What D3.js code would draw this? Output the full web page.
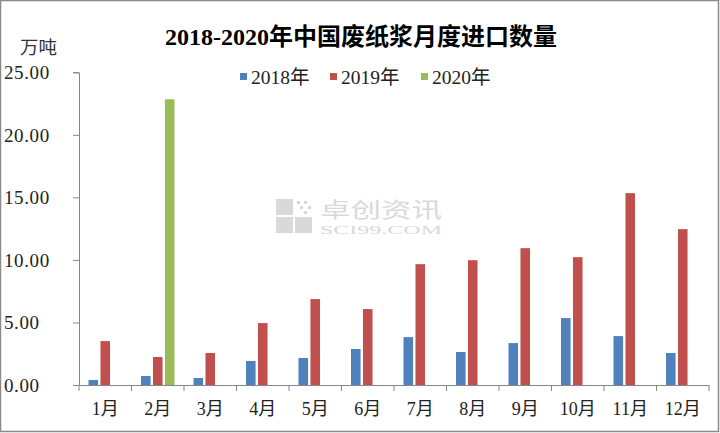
<!DOCTYPE html>
<html><head><meta charset="utf-8">
<script src="https://cdn.jsdelivr.net/npm/d3@7"></script>
<style>html,body{margin:0;padding:0;background:#fff;}svg{display:block;}</style>
</head><body>
<svg id="chart" width="720" height="433"></svg>
<script>
const months = ["1月","2月","3月","4月","5月","6月","7月","8月","9月","10月","11月","12月"];
const seriesNames = ["2018年","2019年","2020年"];
const seriesColors = ["#4F81BD","#C0504D","#9BBB59"];
const values2018 = [0.40,0.72,0.56,1.92,2.16,2.88,3.83,2.64,3.35,5.35,3.91,2.56];
const values2019 = [3.51,2.24,2.56,4.95,6.87,6.07,9.66,9.98,10.94,10.22,15.34,12.46];
const values2020 = [null,22.84,null,null,null,null,null,null,null,null,null,null];
const yTicks = [0,5,10,15,20,25];
const titleText = "2018-2020年中国废纸浆月度进口数量";
const unitText = "万吨";

const allSeries = [values2018, values2019, values2020];
const svg = d3.select("#chart");
const FONT = "'Liberation Serif','Noto Sans CJK SC',serif";

// border
svg.append("rect").attr("x",0.5).attr("y",0.5).attr("width",718).attr("height",431)
  .attr("fill","#fff").attr("stroke","#8a8a8a").attr("stroke-width",1.5);

// watermark
const wm = svg.append("g").attr("fill","#d9d9d9");
wm.append("rect").attr("x",276).attr("y",199).attr("width",17).attr("height",16);
wm.append("rect").attr("x",276).attr("y",217).attr("width",17).attr("height",16);
wm.append("rect").attr("x",295).attr("y",217).attr("width",17).attr("height",16);
[[297,201],[304,201],[300,206],[308,206],[304,211]].forEach(p=>wm.append("rect").attr("x",p[0]).attr("y",p[1]).attr("width",3).attr("height",3));
wm.append("text").attr("x",320).attr("y",217).attr("font-family","'Noto Sans CJK SC',sans-serif")
  .attr("font-size",21).attr("textLength",122).attr("lengthAdjust","spacingAndGlyphs").text("卓创资讯");
wm.append("text").attr("x",320).attr("y",234).attr("font-family","'Liberation Serif',serif")
  .attr("font-size",12).attr("textLength",122).attr("lengthAdjust","spacingAndGlyphs").text("SCI99.COM");

const x0 = d3.scaleBand().domain(months).range([79, 709]).paddingInner(0).paddingOuter(0);
const groupW = 33.5;
const x1 = d3.scaleBand().domain(seriesNames)
  .range([(x0.bandwidth()-groupW)/2, (x0.bandwidth()+groupW)/2]).paddingInner(0.2).paddingOuter(0);
const y = d3.scaleLinear().domain([0,25]).range([385, 72.3]);

// bars
seriesNames.forEach((s,si)=>{
  svg.append("g").selectAll("rect")
    .data(months.map((m,i)=>({m, v: allSeries[si][i]})).filter(d=>d.v!=null))
    .join("rect")
    .attr("x", d=>x0(d.m)+x1(s))
    .attr("y", d=>y(d.v))
    .attr("width", x1.bandwidth())
    .attr("height", d=>y(0)-y(d.v))
    .attr("fill", seriesColors[si]);
});

// y axis
const yAxis = svg.append("g").attr("transform","translate(79,0)")
  .call(d3.axisLeft(y).tickValues(yTicks).tickFormat(d3.format(".2f")).tickSize(6).tickPadding(24));
yAxis.select(".domain").attr("stroke","#868686");
yAxis.selectAll(".tick line").attr("stroke","#868686");
yAxis.selectAll("text").attr("font-family",FONT).attr("font-size",19).attr("fill","#222")
  .attr("text-anchor","start").attr("x",-75).attr("dy","0.33em").attr("letter-spacing","0.6px");

// x axis
const xAxis = svg.append("g").attr("transform","translate(0,385)")
  .call(d3.axisBottom(x0).tickSize(0).tickPadding(17));
xAxis.select(".domain").attr("stroke","#868686");
xAxis.selectAll("text").attr("font-family",FONT).attr("font-size",18).attr("fill","#222");
svg.append("g").selectAll("line").data(d3.range(13)).join("line")
  .attr("x1", i=>79+i*x0.step()).attr("x2", i=>79+i*x0.step())
  .attr("y1",385).attr("y2",391).attr("stroke","#868686");

// title
svg.append("text").attr("x",361).attr("y",45).attr("text-anchor","middle")
  .attr("font-family",FONT).attr("font-size",24).attr("font-weight","bold").attr("fill","#000")
  .text(titleText);
// unit
svg.append("text").attr("x",20).attr("y",54).attr("font-family",FONT)
  .attr("font-size",18.5).attr("fill","#333").text(unitText);

// legend
const legendX = [240, 330, 421];
const lg = svg.append("g");
seriesNames.forEach((s,i)=>{
  lg.append("rect").attr("x",legendX[i]).attr("y",73).attr("width",7).attr("height",7).attr("fill",seriesColors[i]);
  lg.append("text").attr("x",legendX[i]+11).attr("y",84).attr("font-family",FONT)
    .attr("font-size",19.5).attr("fill","#222").text(s);
});
</script>
</body></html>
